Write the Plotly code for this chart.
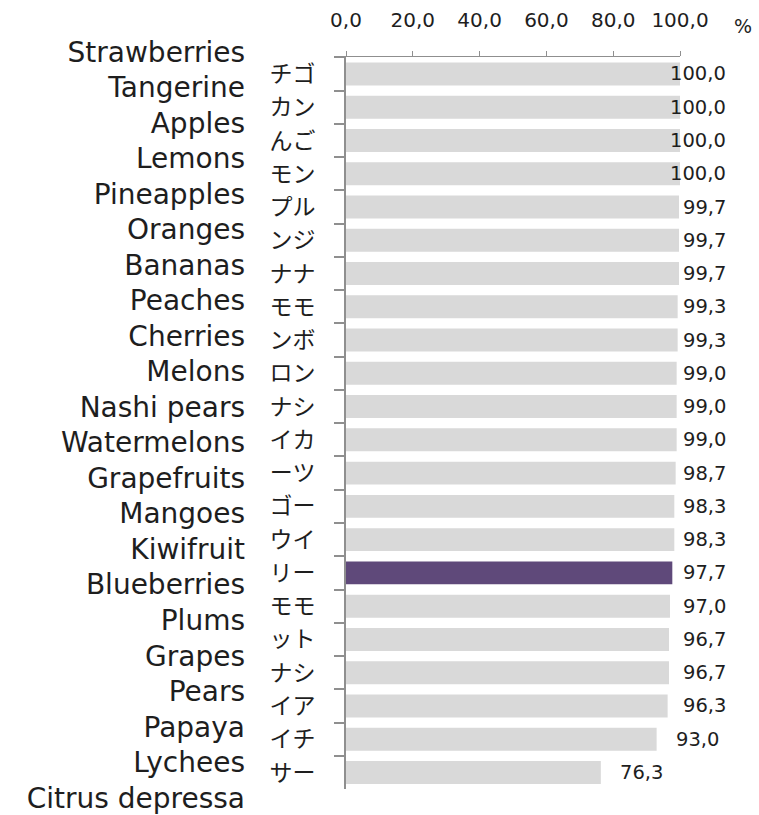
import plotly.graph_objects as go

# Fruit names (English) and their short Japanese tags, top to bottom
fruits_en = ["Strawberries", "Tangerine", "Apples", "Lemons", "Pineapples", "Oranges",
             "Bananas", "Peaches", "Cherries", "Melons", "Nashi pears", "Watermelons",
             "Grapefruits", "Mangoes", "Kiwifruit", "Blueberries", "Plums", "Grapes",
             "Pears", "Papaya", "Lychees", "Citrus depressa"]
fruits_jp = ["チゴ", "カン", "んご", "モン", "プル", "ンジ", "ナナ", "モモ", "ンボ", "ロン", "ナシ",
             "イカ", "ーツ", "ゴー", "ウイ", "リー", "モモ", "ット", "ナシ", "イア", "イチ", "サー"]
values = [100.0, 100.0, 100.0, 100.0, 99.7, 99.7, 99.7, 99.3, 99.3, 99.0, 99.0,
          99.0, 98.7, 98.3, 98.3, 97.7, 97.0, 96.7, 96.7, 96.3, 93.0, 76.3]
x_ticks = [0, 20, 40, 60, 80, 100]
highlight = "Blueberries"

GRAY = "#d9d9d9"
PURPLE = "#5f497a"
AXIS = "#8f8f8f"
TEXT = "#1e1e1e"

W, H = 759, 815
M_L, M_R, M_T, M_B = 346, 79, 20, 0
PLOT_W = W - M_L - M_R
PAPER_H = H - M_T - M_B

# vertical placement of the bar band and of the English name column (pixels)
bar_top, bar_bot = 57.5, 793
en_first, en_step = 52.0, 35.7
n = len(fruits_en)

bar_domain = [(H - M_B - bar_bot) / PAPER_H, (H - M_B - bar_top) / PAPER_H]
en_range = [(n - 1) + (H - M_B - (en_first + (n - 1) * en_step)) / en_step,
            -(en_first - M_T) / en_step]

colors = [PURPLE if f == highlight else GRAY for f in fruits_en]

fig = go.Figure()
fig.add_trace(go.Bar(
    x=values, y=fruits_en, orientation="h",
    marker=dict(color=colors, line=dict(width=0)),
    hoverinfo="skip", showlegend=False,
))
# carrier trace for the English name axis
fig.add_trace(go.Scatter(
    x=values, y=fruits_en, yaxis="y2", mode="markers",
    marker=dict(opacity=0), hoverinfo="skip", showlegend=False,
))

# value labels: just past the bar end, pulled back inside the label column if too wide
LABEL_FONT = 19.5
gap_px = 17
edge_px = 728 - M_L
scale = PLOT_W / 100.0
for f, v in zip(fruits_en, values):
    txt = f"{v:.1f}".replace(".", ",")
    est_w = LABEL_FONT * (0.636 * (len(txt) - 1) + 0.318)
    end_px = v * scale
    if end_px + gap_px + est_w <= edge_px:
        fig.add_annotation(x=v, y=f, xref="x", yref="y", text=txt, showarrow=False,
                           xanchor="left", xshift=gap_px, yanchor="middle",
                           font=dict(family="DejaVu Sans", size=LABEL_FONT, color=TEXT))
    else:
        fig.add_annotation(x=edge_px / PLOT_W, y=f, xref="paper", yref="y", text=txt,
                           showarrow=False, xanchor="right", yanchor="middle",
                           font=dict(family="DejaVu Sans", size=LABEL_FONT, color=TEXT))

fig.add_annotation(x=(743 - M_L) / PLOT_W, y=(H - M_B - 26) / PAPER_H, xref="paper",
                   yref="paper", text="%", showarrow=False, xanchor="center",
                   yanchor="middle", font=dict(family="DejaVu Sans", size=19, color=TEXT))

fig.update_layout(
    width=W, height=H,
    margin=dict(l=M_L, r=M_R, t=M_T, b=M_B, pad=0),
    paper_bgcolor="white", plot_bgcolor="rgba(0,0,0,0)",
    bargap=0.31,
    separators=",.",
    xaxis=dict(
        side="top", range=[0, 100], tickvals=x_ticks, tickformat=".1f",
        showgrid=False, zeroline=False,
        showline=True, linecolor=AXIS, linewidth=1,
        ticks="outside", ticklen=5, tickcolor=AXIS, tickwidth=1,
        ticklabelstandoff=16,
        tickfont=dict(family="DejaVu Sans", size=20, color=TEXT),
        anchor="y", fixedrange=True,
    ),
    yaxis=dict(
        domain=bar_domain, type="category",
        categoryorder="array", categoryarray=fruits_en, autorange="reversed",
        tickmode="array", tickvals=fruits_en, ticktext=fruits_jp,
        showgrid=False, zeroline=False,
        showline=True, linecolor=AXIS, linewidth=2,
        ticks="outside", ticklen=10, tickcolor=AXIS, tickwidth=1.5,
        tickson="boundaries", ticklabelstandoff=24,
        tickfont=dict(family="Noto Sans CJK JP", size=23, color=TEXT),
        fixedrange=True,
    ),
    yaxis2=dict(
        domain=[0, 1], type="category", categoryorder="array", categoryarray=fruits_en,
        range=en_range, autorange=False,
        anchor="free", position=0, side="left",
        showgrid=False, zeroline=False, showline=False, ticks="",
        ticklabelstandoff=101,
        tickfont=dict(family="DejaVu Sans", size=28, color=TEXT),
        fixedrange=True,
    ),
)

fig.write_html("out.html")
